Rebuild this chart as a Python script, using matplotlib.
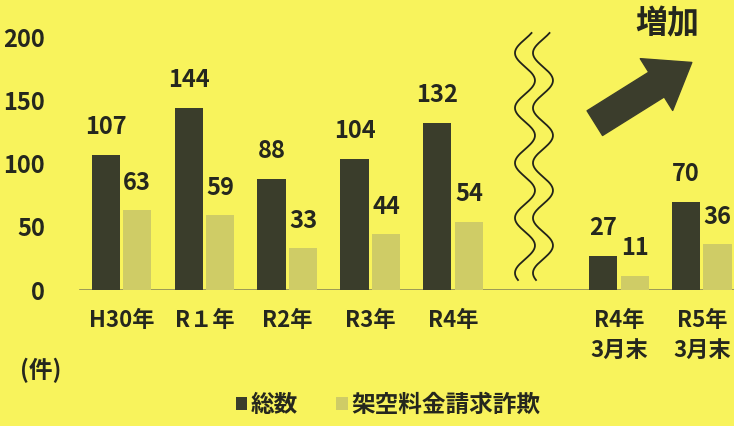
import numpy as np
import matplotlib
matplotlib.use("Agg")
import matplotlib.pyplot as plt
from matplotlib.patches import FancyArrowPatch

plt.rcParams['font.family'] = ['Noto Sans CJK JP', 'DejaVu Sans']
plt.rcParams['font.weight'] = 'bold'

labels = ['H30年', 'R１年', 'R2年', 'R3年', 'R4年', 'R4年\n3月末', 'R5年\n3月末']
total = [107, 144, 88, 104, 132, 27, 70]
fraud = [63, 59, 33, 44, 54, 11, 36]
yticks = [0, 50, 100, 150, 200]

bg = '#f8f35c'
dark = '#3a3d2b'
light = '#cfcc66'
txt = '#25271e'

# group positions, gap of one slot for the axis break
pos = np.array([0, 1, 2, 3, 4, 6, 7])
w = 0.34
off = 0.19

fig = plt.figure(figsize=(7.34, 4.26), dpi=100, facecolor=bg)
ax = fig.add_axes([0, 136/426, 1, 290/426])
ax.set_facecolor(bg)
ax.set_xlim(-1.466, 7.389)
ax.set_ylim(0, 229.4)
for s in ax.spines.values():
    s.set_visible(False)

b1 = ax.bar(pos - off, total, w, color=dark, label='総数', zorder=3)
b2 = ax.bar(pos + off, fraud, w, color=light, label='架空料金請求詐欺', zorder=3)
ax.axhline(0, xmin=80/734, color='#8c8b55', lw=1.2, zorder=2)

for x, v in zip(pos - off, total):
    ax.annotate(str(v), (x, v), xytext=(0, 20), textcoords='offset points',
                ha='center', va='center', fontsize=17, color=txt)
for x, v in zip(pos + off, fraud):
    ax.annotate(str(v), (x, v), xytext=(0, 20), textcoords='offset points',
                ha='center', va='center', fontsize=17, color=txt)

ax.set_yticks(yticks)
ax.set_yticklabels([str(t) for t in yticks], fontsize=17, color=txt)
ax.set_xticks(pos)
ax.set_xticklabels(labels, fontsize=16, color=txt, linespacing=1.35)
ax.tick_params(axis='y', length=0, pad=-32.4)
ax.tick_params(axis='x', length=0, pad=14)

# wavy break marks
yy = np.linspace(33, 280, 300)
for cx in [525, 543]:
    xx = cx + 10 * np.cos(2 * np.pi * (yy - 53) / 55 + np.pi)
    ax.plot((xx - 121.5) / 82.9, (290 - yy) / 1.264, color='#22231a', lw=1.3, zorder=4)

# increase arrow
arr = FancyArrowPatch((5.71, 132), (6.88, 180), shrinkA=0, shrinkB=0,
                      arrowstyle='simple,head_length=1.5,head_width=2.2,tail_width=1.05',
                      mutation_scale=20, color='#3b3d2c', zorder=5)
ax.add_patch(arr)
ax.text(6.59, 210, '増加', ha='center', va='center', fontsize=23,
        color=txt)

fig.text(41/734, 1 - 370/426, '(件)', ha='center', va='center', fontsize=17, color=txt)
fig.legend(handles=[b1, b2], loc='center', bbox_to_anchor=(388/734, 1 - 405/426),
           ncol=2, frameon=False, fontsize=17, handlelength=0.5, handleheight=0.5,
           handletextpad=0.15, columnspacing=1.6, labelcolor=txt)

fig.savefig('out.png', dpi=100, facecolor=bg)
